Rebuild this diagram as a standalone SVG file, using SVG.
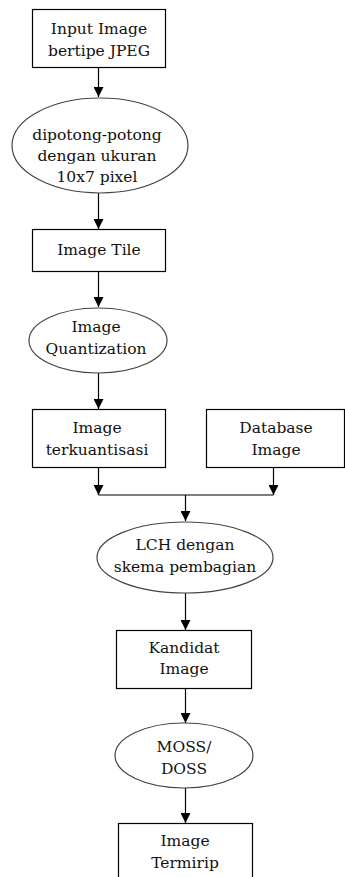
<svg xmlns="http://www.w3.org/2000/svg" width="345" height="877" viewBox="0 0 345 877">
<style>
.box{fill:#fff;stroke:#000;stroke-width:1.2}
.ell{fill:#fff;stroke:#444;stroke-width:1.2}
.t{font-family:"DejaVu Serif","Liberation Serif",serif;font-size:15.5px;fill:#111;text-anchor:middle}
.c{stroke:#000;stroke-width:1.2;fill:none}
</style>
<defs>
<marker id="ah" viewBox="0 0 10 10" refX="10" refY="5" markerWidth="10" markerHeight="10" markerUnits="userSpaceOnUse" orient="auto">
<path d="M0,0 L10,5 L0,10 z" fill="#000"/>
</marker>
</defs>
<rect width="345" height="877" fill="#fff"/>
<g id="connectors">
<line class="c" x1="98.5" y1="68" x2="98.5" y2="97" marker-end="url(#ah)"/>
<line class="c" x1="98.5" y1="193" x2="98.5" y2="229" marker-end="url(#ah)"/>
<line class="c" x1="98.5" y1="271" x2="98.5" y2="307" marker-end="url(#ah)"/>
<line class="c" x1="98.5" y1="373" x2="98.5" y2="409" marker-end="url(#ah)"/>
<line class="c" x1="98.5" y1="467" x2="98.5" y2="495" marker-end="url(#ah)"/>
<line class="c" x1="273.5" y1="467" x2="273.5" y2="495" marker-end="url(#ah)"/>
<line class="c" x1="98.5" y1="495" x2="273.5" y2="495"/>
<line class="c" x1="185.5" y1="495" x2="185.5" y2="521" marker-end="url(#ah)"/>
<line class="c" x1="185.5" y1="593" x2="185.5" y2="630" marker-end="url(#ah)"/>
<line class="c" x1="185.5" y1="688" x2="185.5" y2="723" marker-end="url(#ah)"/>
<line class="c" x1="185.5" y1="788" x2="185.5" y2="823" marker-end="url(#ah)"/>
</g>
<g id="n1">
<rect class="box" x="32.5" y="9.5" width="133" height="58"/>
<text class="t" x="99" y="34">Input Image</text>
<text class="t" x="99" y="56">bertipe JPEG</text>
</g>
<g id="n2">
<ellipse class="ell" cx="100" cy="145.5" rx="88" ry="47.5"/>
<text class="t" x="97" y="140">dipotong-potong</text>
<text class="t" x="97" y="161">dengan ukuran</text>
<text class="t" x="97" y="182">10x7 pixel</text>
</g>
<g id="n3">
<rect class="box" x="32.5" y="229.5" width="133" height="42"/>
<text class="t" x="99" y="255">Image Tile</text>
</g>
<g id="n4">
<ellipse class="ell" cx="98" cy="340.5" rx="69" ry="32.5"/>
<text class="t" x="96" y="332">Image</text>
<text class="t" x="96" y="354">Quantization</text>
</g>
<g id="n5">
<rect class="box" x="32.5" y="409.5" width="133" height="58"/>
<text class="t" x="97" y="433">Image</text>
<text class="t" x="97" y="455">terkuantisasi</text>
</g>
<g id="n6">
<rect class="box" x="206.5" y="409.5" width="138" height="58"/>
<text class="t" x="276" y="433">Database</text>
<text class="t" x="276" y="455">Image</text>
</g>
<g id="n7">
<ellipse class="ell" cx="185" cy="557.5" rx="88" ry="35.5"/>
<text class="t" x="185" y="550">LCH dengan</text>
<text class="t" x="185" y="572">skema pembagian</text>
</g>
<g id="n8">
<rect class="box" x="116.5" y="630.5" width="135" height="58"/>
<text class="t" x="184" y="653">Kandidat</text>
<text class="t" x="184" y="674">Image</text>
</g>
<g id="n9">
<ellipse class="ell" cx="184" cy="755.5" rx="69" ry="32.5"/>
<text class="t" x="184" y="752">MOSS/</text>
<text class="t" x="184" y="774">DOSS</text>
</g>
<g id="n10">
<rect class="box" x="118.5" y="823.5" width="134" height="70"/>
<text class="t" x="185" y="846">Image</text>
<text class="t" x="185" y="868">Termirip</text>
</g>
</svg>
